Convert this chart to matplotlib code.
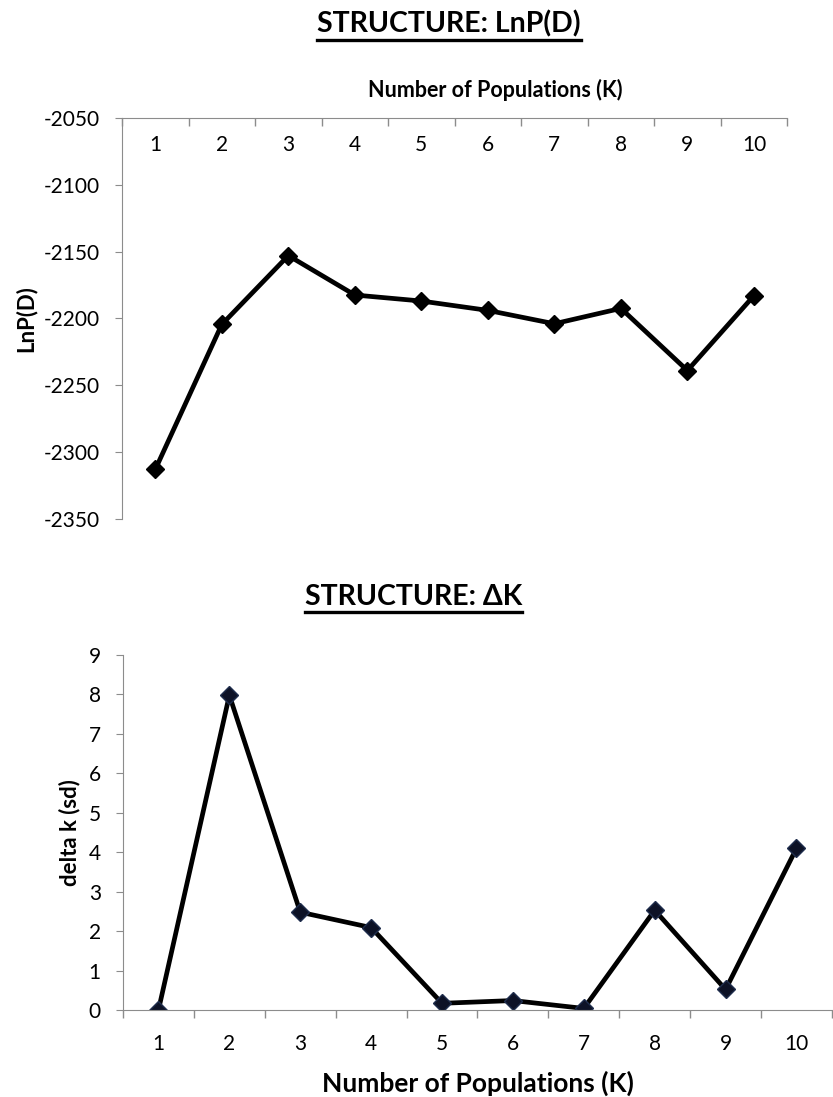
import matplotlib
matplotlib.use("Agg")
import matplotlib.pyplot as plt
from matplotlib.lines import Line2D
import numpy as np

# データ
k_values = [1, 2, 3, 4, 5, 6, 7, 8, 9, 10]
lnp_d = [-2313, -2204.5, -2153, -2182.5, -2187, -2194, -2204, -2192.5, -2239, -2183]
delta_k = [0.0, 7.98, 2.48, 2.09, 0.17, 0.24, 0.04, 2.53, 0.52, 4.10]

lnp_ticks = [-2050, -2100, -2150, -2200, -2250, -2300, -2350]
delta_ticks = [0, 1, 2, 3, 4, 5, 6, 7, 8, 9]

plt.rcParams['font.family'] = ['Lato', 'DejaVu Sans']
plt.rcParams['axes.unicode_minus'] = False
AXIS_GRAY = '#8c8c8c'

fig = plt.figure(figsize=(8.33, 10.97), dpi=100)


def underline_title(text_obj, offset_px=2, lw=2.4):
    """タイトルに下線を引く"""
    fig.canvas.draw()
    bb = text_obj.get_window_extent(renderer=fig.canvas.get_renderer())
    inv = fig.transFigure.inverted()
    x0, y0 = inv.transform((bb.x0, bb.y0 - offset_px))
    x1, _ = inv.transform((bb.x1, bb.y0 - offset_px))
    fig.add_artist(Line2D([x0, x1], [y0, y0], transform=fig.transFigure,
                          color='black', lw=lw))


def style_category_axis(ax, direction):
    """Excel風のカテゴリ軸（目盛りはカテゴリの境界）"""
    ax.set_xlim(0.5, 10.5)
    ax.set_xticks(k_values)
    ax.set_xticklabels([str(k) for k in k_values])
    ax.set_xticks(np.arange(0.5, 11, 1), minor=True)
    ax.tick_params(axis='x', which='major', length=0)
    ax.tick_params(axis='x', which='minor', length=6, width=1,
                   color=AXIS_GRAY, direction=direction)


# ---- 上のグラフ: LnP(D) ----
ax1 = fig.add_axes([0.1465, 0.527, 0.7985, 0.3655])
ax1.plot(k_values, lnp_d, color='black', lw=3.4, marker='D', markersize=9,
         markerfacecolor='black', markeredgecolor='black')
ax1.set_ylim(-2350, -2050)
ax1.set_yticks(lnp_ticks)
ax1.tick_params(axis='y', labelsize=15, length=5, color=AXIS_GRAY, pad=11)

ax1.xaxis.tick_top()
ax1.xaxis.set_label_position('top')
style_category_axis(ax1, 'in')
ax1.tick_params(axis='x', which='major', labelsize=15, pad=-27)
ax1.set_xlabel('Number of Populations (K)', fontsize=15.5, fontweight='bold',
               labelpad=12)
ax1.xaxis.label.set_x(0.561)
ax1.set_ylabel('LnP(D)', fontsize=16, fontweight='bold', labelpad=5)

for side in ['right', 'bottom']:
    ax1.spines[side].set_visible(False)
for side in ['left', 'top']:
    ax1.spines[side].set_color(AXIS_GRAY)

t1 = fig.text(0.539, 0.978, 'STRUCTURE: LnP(D)', ha='center', va='center',
              fontsize=20.5, fontweight='bold')

# ---- 下のグラフ: ΔK ----
ax2 = fig.add_axes([0.1477, 0.0793, 0.851, 0.3236])
ax2.plot(k_values, delta_k, color='black', lw=3.4, marker='D', markersize=9,
         markerfacecolor='#0d1226', markeredgecolor='#1f2d4d')
ax2.set_ylim(0, 9)
ax2.set_yticks(delta_ticks)
ax2.tick_params(axis='y', labelsize=15, length=5, color=AXIS_GRAY, pad=11)

style_category_axis(ax2, 'out')
ax2.tick_params(axis='x', which='major', labelsize=15, pad=17)
ax2.set_xlabel('Number of Populations (K)', fontsize=19, fontweight='bold',
               labelpad=12)
ax2.set_ylabel('delta k (sd)', fontsize=16, fontweight='bold', labelpad=6)

for side in ['right', 'top']:
    ax2.spines[side].set_visible(False)
for side in ['left', 'bottom']:
    ax2.spines[side].set_color(AXIS_GRAY)

t2 = fig.text(0.496, 0.4555, 'STRUCTURE: ΔK', ha='center', va='center',
              fontsize=20.5, fontweight='bold')

underline_title(t1)
underline_title(t2)

fig.savefig('out.png', dpi=100)
plt.close(fig)
